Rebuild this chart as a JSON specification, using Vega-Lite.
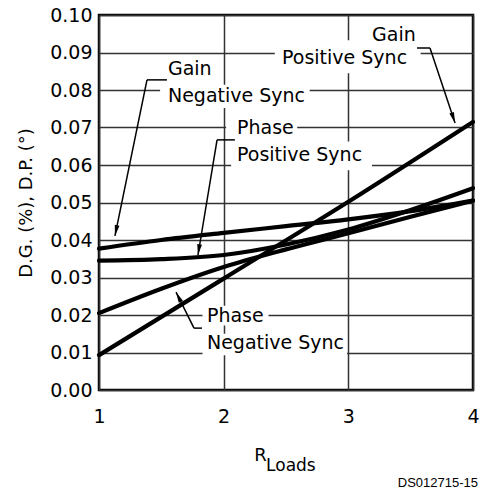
{
  "$schema": "https://vega.github.io/schema/vega-lite/v6.json",
  "width": 374,
  "height": 375,
  "autosize": {"type": "none"},
  "padding": {"left": 99, "top": 15, "right": 10, "bottom": 102},
  "background": "white",
  "config": {
    "view": {"stroke": "black", "strokeWidth": 2.5},
    "font": "DejaVu Sans"
  },
  "datasets": {
    "curves": [
      {"series": "Gain Positive Sync", "x": 1, "y": 0.0093},
      {"series": "Gain Positive Sync", "x": 2, "y": 0.0297},
      {"series": "Gain Positive Sync", "x": 3, "y": 0.0502},
      {"series": "Gain Positive Sync", "x": 4, "y": 0.0715},
      {"series": "Gain Negative Sync", "x": 1, "y": 0.0377},
      {"series": "Gain Negative Sync", "x": 1.5, "y": 0.0400},
      {"series": "Gain Negative Sync", "x": 2, "y": 0.0419},
      {"series": "Gain Negative Sync", "x": 2.5, "y": 0.0437},
      {"series": "Gain Negative Sync", "x": 3, "y": 0.0455},
      {"series": "Gain Negative Sync", "x": 3.5, "y": 0.0477},
      {"series": "Gain Negative Sync", "x": 4, "y": 0.0505},
      {"series": "Phase Positive Sync", "x": 1, "y": 0.0345},
      {"series": "Phase Positive Sync", "x": 1.5, "y": 0.0349},
      {"series": "Phase Positive Sync", "x": 2, "y": 0.0360},
      {"series": "Phase Positive Sync", "x": 2.5, "y": 0.0388},
      {"series": "Phase Positive Sync", "x": 3, "y": 0.0428},
      {"series": "Phase Positive Sync", "x": 3.5, "y": 0.0480},
      {"series": "Phase Positive Sync", "x": 4, "y": 0.0538},
      {"series": "Phase Negative Sync", "x": 1, "y": 0.0205},
      {"series": "Phase Negative Sync", "x": 1.5, "y": 0.0270},
      {"series": "Phase Negative Sync", "x": 2, "y": 0.0328},
      {"series": "Phase Negative Sync", "x": 2.5, "y": 0.0375},
      {"series": "Phase Negative Sync", "x": 3, "y": 0.0418},
      {"series": "Phase Negative Sync", "x": 3.5, "y": 0.0462},
      {"series": "Phase Negative Sync", "x": 4, "y": 0.0505}
    ],
    "boxes": [
      {"x": 1.49, "x2": 2.69, "y": 0.0814, "y2": 0.0752},
      {"x": 2.02, "x2": 2.59, "y": 0.0723, "y2": 0.0674},
      {"x": 2.06, "x2": 3.19, "y": 0.0663, "y2": 0.0586},
      {"x": 2.41, "x2": 3.58, "y": 0.0933, "y2": 0.0845},
      {"x": 1.83, "x2": 2.36, "y": 0.0225, "y2": 0.0172},
      {"x": 1.83, "x2": 2.99, "y": 0.0150, "y2": 0.0093}
    ],
    "labels": [
      {"x": 1.553, "y": 0.0856, "text": "Gain"},
      {"x": 1.553, "y": 0.0784, "text": "Negative Sync"},
      {"x": 2.107, "y": 0.0699, "text": "Phase"},
      {"x": 2.107, "y": 0.0627, "text": "Positive Sync"},
      {"x": 3.19, "y": 0.0947, "text": "Gain"},
      {"x": 2.468, "y": 0.0885, "text": "Positive Sync"},
      {"x": 1.866, "y": 0.0197, "text": "Phase"},
      {"x": 1.866, "y": 0.0125, "text": "Negative Sync"}
    ],
    "leaders": [
      {"x": 1.385, "y": 0.0827, "x2": 1.545, "y2": 0.0827},
      {"x": 1.385, "y": 0.0827, "x2": 1.128, "y2": 0.0411},
      {"x": 1.947, "y": 0.0667, "x2": 2.09, "y2": 0.0667},
      {"x": 1.947, "y": 0.0667, "x2": 1.794, "y2": 0.0360},
      {"x": 3.551, "y": 0.0912, "x2": 3.655, "y2": 0.0912},
      {"x": 3.655, "y": 0.0912, "x2": 3.856, "y2": 0.0712},
      {"x": 1.762, "y": 0.0165, "x2": 1.826, "y2": 0.0165},
      {"x": 1.762, "y": 0.0165, "x2": 1.618, "y2": 0.0261}
    ],
    "arrows": [
      {"x": 1.128, "y": 0.0411, "angle": 191.6},
      {"x": 1.794, "y": 0.0360, "angle": 188.5},
      {"x": 3.856, "y": 0.0712, "angle": 161.6},
      {"x": 1.618, "y": 0.0261, "angle": 333.4}
    ],
    "outer": [
      {"x": 2.245, "y": -0.0175, "text": "R"}
    ],
    "outersub": [
      {"x": 2.34, "y": -0.0203, "text": "Loads"}
    ],
    "credit": [
      {"x": 4.04, "y": -0.0248, "text": "DS012715-15"}
    ]
  },
  "encoding": {
    "x": {"type": "quantitative", "scale": {"domain": [1, 4], "nice": false, "zero": false},
      "axis": {"values": [1, 2, 3, 4], "tickCount": 10, "format": "d", "title": null, "domain": false, "ticks": false,
        "labelFontSize": 19, "labelFont": "DejaVu Sans", "labelColor": "black", "labelPadding": 17,
        "labelOverlap": false,
        "grid": true, "gridColor": "#333", "gridWidth": 1.5, "gridOpacity": 1, "labelFlush": false}},
    "y": {"type": "quantitative", "scale": {"domain": [0, 0.1], "nice": false, "zero": true},
      "axis": {"tickCount": 20, "values": [0, 0.01, 0.02, 0.03, 0.04, 0.05, 0.06, 0.07, 0.08, 0.09, 0.1], "format": ".2f",
        "title": "D.G. (%), D.P. (°)", "titleFontSize": 18, "titleFont": "DejaVu Sans", "titleFontWeight": "normal",
        "titleColor": "black", "titlePadding": 14, "domain": false, "ticks": false,
        "labelOverlap": false, "labelBound": false,
        "labelFontSize": 19, "labelFont": "DejaVu Sans", "labelColor": "black", "labelPadding": 7,
        "grid": true, "gridColor": "#333", "gridWidth": 1.5, "gridOpacity": 1, "labelFlush": false}}
  },
  "layer": [
    {
      "data": {"name": "boxes"},
      "mark": {"type": "rect", "fill": "white", "stroke": null},
      "encoding": {
        "x": {"field": "x"},
        "x2": {"field": "x2"},
        "y": {"field": "y"},
        "y2": {"field": "y2"}
      }
    },
    {
      "data": {"name": "curves"},
      "mark": {"type": "line", "color": "black", "strokeWidth": 4.2, "interpolate": "monotone", "strokeCap": "round"},
      "encoding": {
        "x": {"field": "x"},
        "y": {"field": "y"},
        "detail": {"field": "series"}
      }
    },
    {
      "data": {"name": "leaders"},
      "mark": {"type": "rule", "color": "black", "strokeWidth": 1.5},
      "encoding": {
        "x": {"field": "x"},
        "y": {"field": "y"},
        "x2": {"field": "x2"},
        "y2": {"field": "y2"}
      }
    },
    {
      "data": {"name": "arrows"},
      "mark": {"type": "point", "shape": "M0,0L-0.8,3.6L0.8,3.6Z", "filled": true, "color": "black", "size": 36, "opacity": 1},
      "encoding": {
        "x": {"field": "x"},
        "y": {"field": "y"},
        "angle": {"field": "angle", "type": "quantitative", "scale": null}
      }
    },
    {
      "data": {"name": "labels"},
      "mark": {"type": "text", "align": "left", "baseline": "middle", "fontSize": 19, "font": "DejaVu Sans", "color": "black"},
      "encoding": {
        "x": {"field": "x"},
        "y": {"field": "y"},
        "text": {"field": "text"}
      }
    },
    {
      "data": {"name": "outer"},
      "mark": {"type": "text", "align": "left", "baseline": "middle", "fontSize": 18, "font": "DejaVu Sans", "color": "black"},
      "encoding": {
        "x": {"field": "x"},
        "y": {"field": "y"},
        "text": {"field": "text"}
      }
    },
    {
      "data": {"name": "outersub"},
      "mark": {"type": "text", "align": "left", "baseline": "middle", "fontSize": 17, "font": "DejaVu Sans", "color": "black"},
      "encoding": {
        "x": {"field": "x"},
        "y": {"field": "y"},
        "text": {"field": "text"}
      }
    },
    {
      "data": {"name": "credit"},
      "mark": {"type": "text", "align": "right", "baseline": "middle", "fontSize": 13, "font": "Liberation Sans", "color": "black"},
      "encoding": {
        "x": {"field": "x"},
        "y": {"field": "y"},
        "text": {"field": "text"}
      }
    }
  ]
}
